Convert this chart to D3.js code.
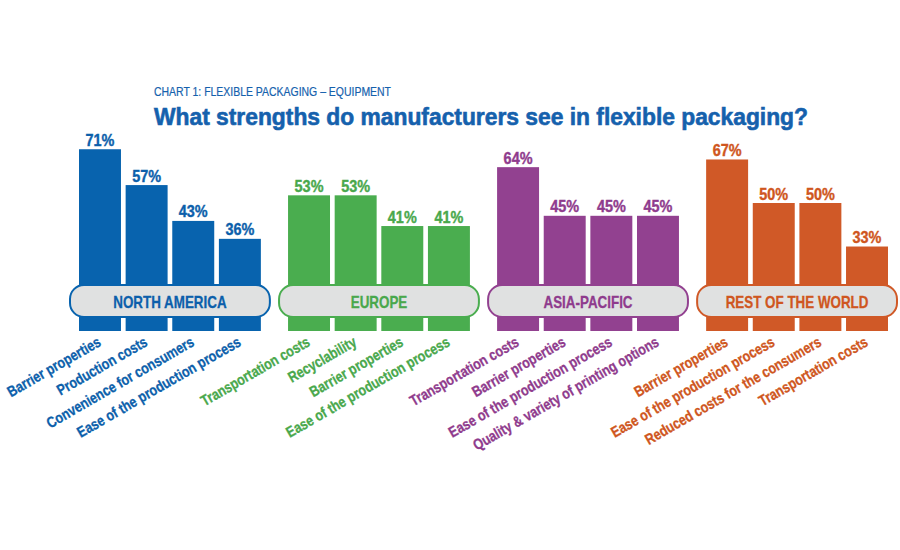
<!DOCTYPE html>
<html><head><meta charset="utf-8">
<script src="https://cdn.jsdelivr.net/npm/d3@7"></script>
<style>body{margin:0;background:#fff}svg{display:block}</style>
</head><body><svg id="c" width="900" height="550"></svg>
<script>
const regions = ["NORTH AMERICA", "EUROPE", "ASIA-PACIFIC", "REST OF THE WORLD"];
const barColors = ["#0863ae", "#4aad4f", "#924190", "#d05927"];
const textColors = ["#0c5fab", "#49a84c", "#8f3b8d", "#cf5620"];

const naCategories = ["Barrier properties", "Production costs", "Convenience for consumers", "Ease of the production process"];
const naValues = [71, 57, 43, 36];
const euCategories = ["Transportation costs", "Recyclability", "Barrier properties", "Ease of the production process"];
const euValues = [53, 53, 41, 41];
const apCategories = ["Transportation costs", "Barrier properties", "Ease of the production process", "Quality & variety of printing options"];
const apValues = [64, 45, 45, 45];
const rowCategories = ["Barrier properties", "Ease of the production process", "Reduced costs for the consumers", "Transportation costs"];
const rowValues = [67, 50, 50, 33];

const subtitle = "CHART 1: FLEXIBLE PACKAGING – EQUIPMENT";
const titleText = "What strengths do manufacturers see in flexible packaging?";

const groups = regions.map((r, i) => ({
  region: r,
  color: barColors[i],
  tcolor: textColors[i],
  cats: [naCategories, euCategories, apCategories, rowCategories][i],
  vals: [naValues, euValues, apValues, rowValues][i]
}));

const FONT = "'Liberation Sans', Arial, sans-serif";
const svg = d3.select("#c");
svg.append("rect").attr("width", 900).attr("height", 550).attr("fill", "#fff");

const x0 = d3.scaleBand().domain(regions).range([79, 888]).paddingInner(0.13).paddingOuter(0);
const x1 = d3.scaleBand().domain([0, 1, 2, 3]).range([0, x0.bandwidth()]).paddingInner(0.1).paddingOuter(0);
const y = d3.scaleLinear().domain([0, 100]).range([331, 75]);

// titles
svg.append("text").attr("x", 154).attr("y", 96)
  .attr("font-family", FONT).attr("font-size", 12.2).attr("fill", "#1561ad")
  .attr("stroke", "#1561ad").attr("stroke-width", 0.2)
  .attr("textLength", 237).attr("lengthAdjust", "spacingAndGlyphs")
  .text(subtitle);
svg.append("text").attr("x", 154).attr("y", 125)
  .attr("font-family", FONT).attr("font-weight", "bold").attr("font-size", 23.3).attr("fill", "#1561ad")
  .attr("stroke", "#1561ad").attr("stroke-width", 0.6)
  .attr("textLength", 654).attr("lengthAdjust", "spacingAndGlyphs")
  .text(titleText);

const g = svg.selectAll("g.grp").data(groups).enter().append("g")
  .attr("class", "grp")
  .attr("transform", d => `translate(${x0(d.region)},0)`);

// bars
g.selectAll("rect.bar").data(d => d.vals.map((v, i) => ({v, i, d}))).enter().append("rect")
  .attr("class", "bar")
  .attr("x", e => x1(e.i))
  .attr("width", x1.bandwidth())
  .attr("y", e => y(e.v))
  .attr("height", e => y(0) - y(e.v))
  .attr("fill", e => e.d.color);

// value labels
g.selectAll("text.val").data(d => d.vals.map((v, i) => ({v, i, d}))).enter().append("text")
  .attr("class", "val")
  .attr("transform", e => `translate(${x1(e.i) + x1.bandwidth() / 2},${y(e.v) - 3.5}) scale(0.86,1)`)
  .attr("text-anchor", "middle")
  .attr("font-family", FONT).attr("font-weight", "bold").attr("font-size", 16.8)
  .attr("fill", e => e.d.tcolor).attr("stroke", e => e.d.tcolor).attr("stroke-width", 0.4)
  .text(e => e.v + "%");

// pills
g.append("rect")
  .attr("x", -9).attr("width", x0.bandwidth() + 18)
  .attr("y", 285).attr("height", 32).attr("rx", 14).attr("ry", 14)
  .attr("fill", "#e0e1e1").attr("stroke", d => d.color).attr("stroke-width", 2);
g.append("text")
  .attr("transform", `translate(${x0.bandwidth() / 2},308) scale(0.77,1)`)
  .attr("text-anchor", "middle")
  .attr("font-family", FONT).attr("font-weight", "bold").attr("font-size", 17.4)
  .attr("fill", d => d.tcolor).attr("stroke", d => d.tcolor).attr("stroke-width", 0.3)
  .text(d => d.region);

// category labels
g.selectAll("text.cat").data(d => d.cats.map((c, i) => ({c, i, d}))).enter().append("text")
  .attr("class", "cat")
  .attr("transform", e => `translate(${x1(e.i) + x1.bandwidth() / 2 + 2},345) rotate(-30) scale(0.82,1)`)
  .attr("text-anchor", "end")
  .attr("font-family", FONT).attr("font-weight", "bold").attr("font-size", 15.2)
  .attr("fill", e => e.d.tcolor).attr("stroke", e => e.d.tcolor).attr("stroke-width", 0.3)
  .text(e => e.c);
</script>
</body></html>
